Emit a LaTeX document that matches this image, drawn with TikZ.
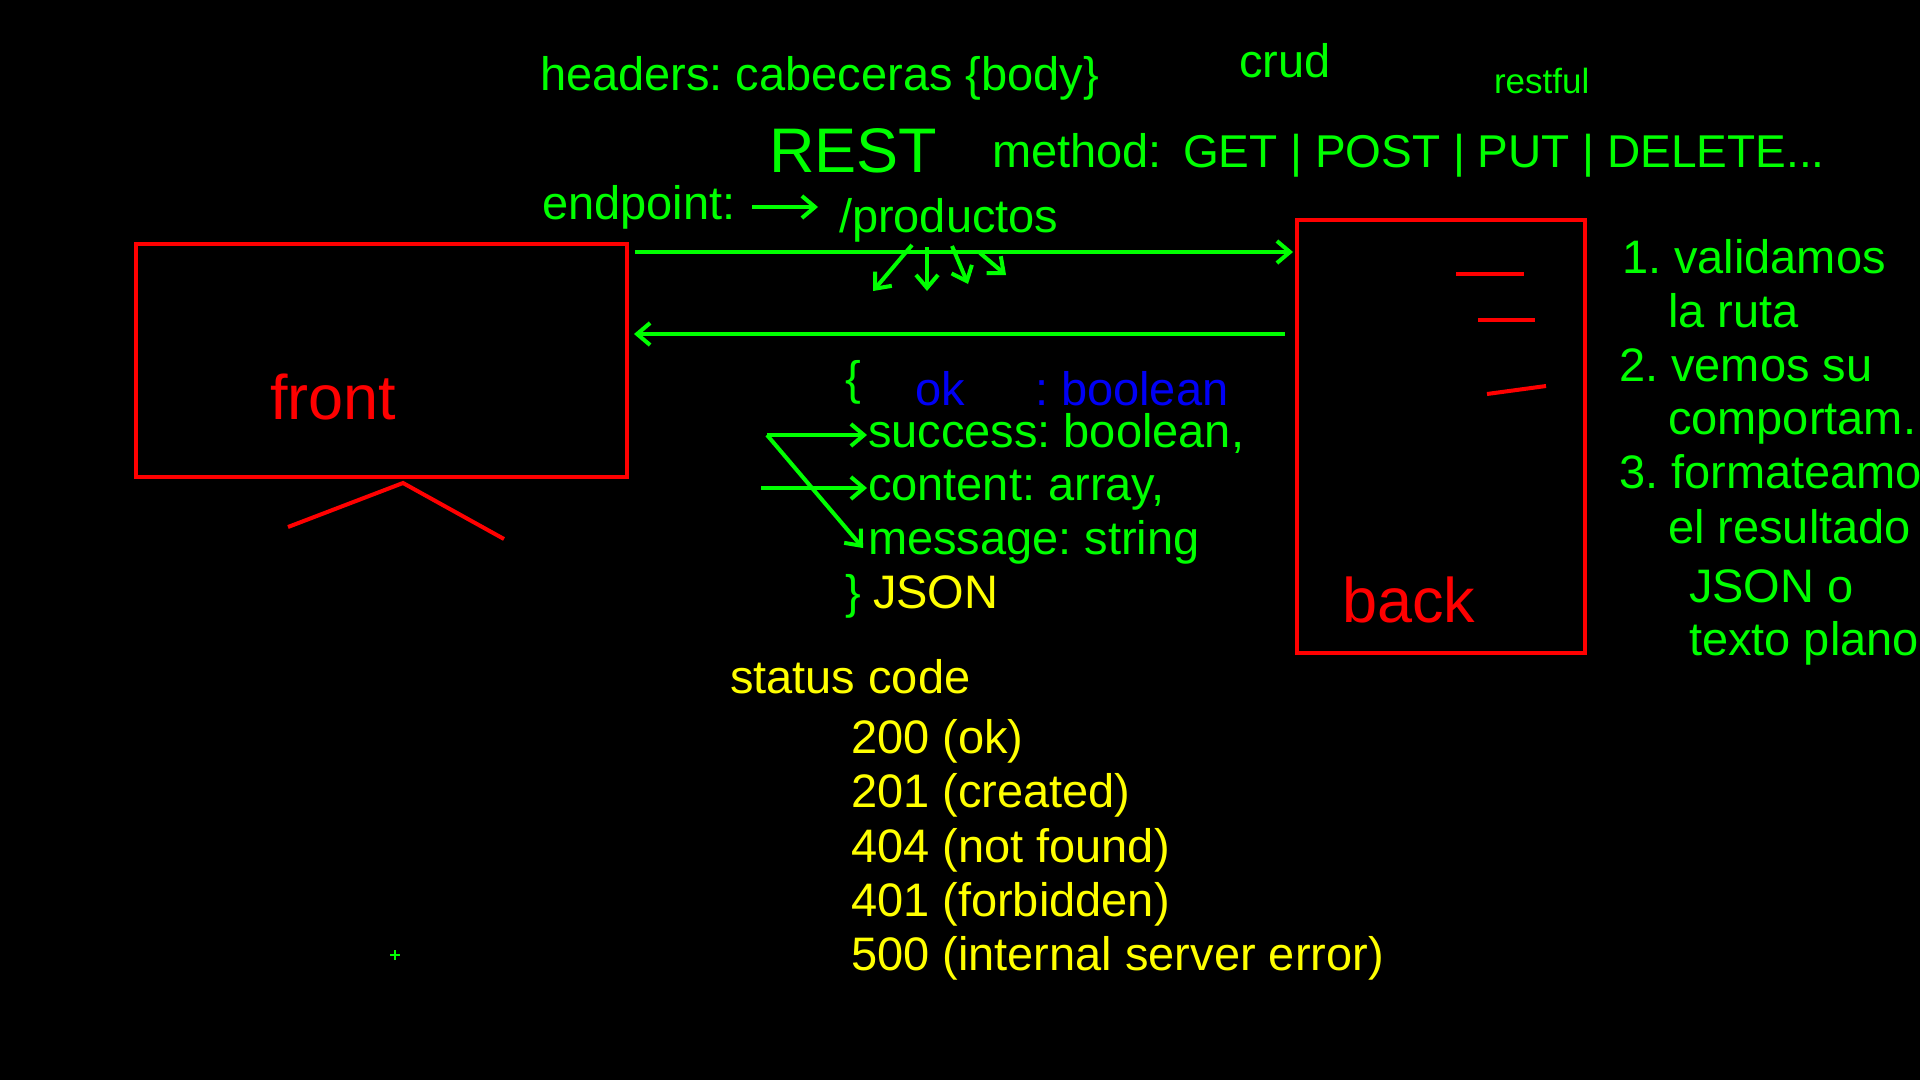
\documentclass[tikz,border=0pt]{standalone}
\usepackage{fontspec}
\setmainfont{Liberation Sans}
\usetikzlibrary{arrows.meta}
\definecolor{gr}{RGB}{0,255,0}
\definecolor{rd}{RGB}{255,0,0}
\definecolor{yl}{RGB}{255,255,0}
\definecolor{bl}{RGB}{0,0,245}
\frenchspacing
\begin{document}
\begin{tikzpicture}[x=1pt,y=-1pt,
  txt/.style={anchor=base west,inner sep=0pt,outer sep=0pt,font=\fontsize{47}{47}\selectfont},
  gtxt/.style={txt,text=gr},
  ytxt/.style={txt,text=yl},
  btxt/.style={txt,text=bl},
  bigtxt/.style={txt,font=\fontsize{63}{63}\selectfont},
  arr/.style={draw=gr,line width=4pt,-{Straight Barb[length=13pt,width=22pt]}},
  redline/.style={draw=rd,line width=4pt},
  box/.style={draw=rd,line width=4pt,rectangle,inner sep=0pt,outer sep=0pt}
]
\path[fill=black,use as bounding box] (0,0) rectangle (1920,1080);

% boxes
\node[box,minimum width=491pt,minimum height=233pt] (front) at (381.5,360.5) {};
\node[box,minimum width=288pt,minimum height=433pt] (back) at (1441,436.5) {};
\node[bigtxt,text=rd] (frontlbl) at (270,419) {front};
\node[bigtxt,text=rd] (backlbl) at (1342,622) {back};

% stand under front
\coordinate (st1) at (288,527);
\coordinate (st2) at (403,483);
\coordinate (st3) at (504,539);
\draw[redline] (st1) -- (st2) -- (st3);

% red marks in back
\coordinate (m1a) at (1456,274); \coordinate (m1b) at (1524,274);
\coordinate (m2a) at (1478,320); \coordinate (m2b) at (1535,320);
\coordinate (m3a) at (1487,394); \coordinate (m3b) at (1546,386);
\draw[redline] (m1a) -- (m1b);
\draw[redline] (m2a) -- (m2b);
\draw[redline] (m3a) -- (m3b);

% top texts
\node[gtxt] (headers) at (540,90) {headers: cabeceras \{body\}};
\node[gtxt] (crud) at (1239,77) {crud};
\node[txt,text=gr,font=\fontsize{35}{35}\selectfont] (restful) at (1494,93) {restful};
\node[bigtxt,text=gr] (rest) at (769,172) {REST};
\node[gtxt] (method) at (992,167) {method:};
\node[txt,text=gr,font=\fontsize{46}{46}\selectfont] (verbs) at (1183,167) {GET | POST | PUT | DELETE...};
\node[gtxt] (endpoint) at (542,219) {endpoint:};
\node[gtxt] (productos) at (839,232) {/productos};
\coordinate (ep1) at (752,207);
\coordinate (ep2) at (818,207);
\draw[arr] (ep1) -- (ep2);

% request / response arrows
\coordinate (reqS) at (635,252);
\coordinate (resS) at (1285,334);
\draw[arr] (reqS) -- ([xshift=-4pt]back.west |- reqS);
\draw[arr] (resS) -- ([xshift=7pt]front.east |- resS);

% small arrows from /productos
\coordinate (a1s) at (912,245); \coordinate (a1e) at (873,291);
\coordinate (a2s) at (927,247); \coordinate (a2e) at (927,291);
\coordinate (a3s) at (952,246); \coordinate (a3e) at (968,284);
\coordinate (a4s) at (980,253); \coordinate (a4e) at (1006,275);
\draw[arr] (a1s) -- (a1e);
\draw[arr] (a2s) -- (a2e);
\draw[arr] (a3s) -- (a3e);
\draw[arr] (a4s) -- (a4e);

% JSON block
\node[gtxt] (lbrace) at (845,394) {\{};
\node[btxt] (ok) at (915,405) {ok};
\node[btxt] (okt) at (1035,405) {: boolean};
\node[gtxt] (success) at (868,447) {success: boolean,};
\node[gtxt] (content) at (868,500) {content: array,};
\node[gtxt] (message) at (868,554) {message: string};
\node[gtxt] (rbrace) at (845,608) {\}};
\node[ytxt] (json) at (873,608) {JSON};

\coordinate (corner) at (767,435);
\coordinate (cstart) at (761,488);
\coordinate (msgtip) at (863,548);
\draw[arr] (corner) -- ([xshift=-1pt]success.west |- corner);
\draw[arr] (corner) -- (msgtip);
\draw[arr] (cstart) -- ([xshift=-1pt]content.west |- cstart);

% right list
\node[gtxt] (l1) at (1622,273) {1. validamos};
\node[gtxt] (l1b) at (1668,327) {la ruta};
\node[gtxt] (l2) at (1619,381) {2. vemos su};
\node[gtxt] (l2b) at (1668,434) {comportam.};
\node[gtxt] (l3) at (1619,488) {3. formateamo};
\node[gtxt] (l3b) at (1668,543) {el resultado};
\node[gtxt] (l3c) at (1689,602) {JSON o};
\node[gtxt] (l3d) at (1689,655) {texto plano};

% status codes
\node[ytxt] (status) at (730,693) {status code};
\node[ytxt] (s200) at (851,753) {200 (ok)};
\node[ytxt] (s201) at (851,807) {201 (created)};
\node[ytxt] (s404) at (851,862) {404 (not found)};
\node[ytxt] (s401) at (851,916) {401 (forbidden)};
\node[ytxt] (s500) at (851,970) {500 (internal server error)};

% small plus
\coordinate (pl) at (395,955);
\draw[gr,line width=2pt] ([xshift=-5pt]pl) -- ([xshift=5pt]pl);
\draw[gr,line width=2pt] ([yshift=-5pt]pl) -- ([yshift=5pt]pl);
\end{tikzpicture}
\end{document}
